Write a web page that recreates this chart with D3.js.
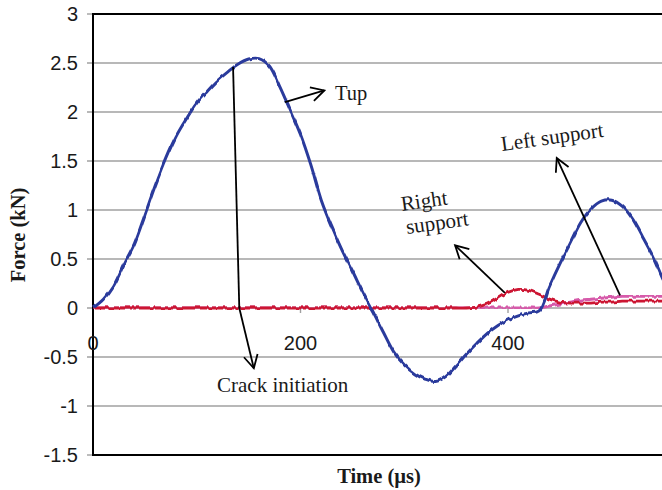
<!DOCTYPE html>
<html>
<head>
<meta charset="utf-8">
<script src="https://cdn.jsdelivr.net/npm/d3@7/dist/d3.min.js"></script>
<style>
  html, body { margin: 0; padding: 0; background: #fff; }
  svg { display: block; }
</style>
</head>
<body>
<svg id="chart" width="662" height="490"></svg>
<script>
// Time samples (µs)
const timeUs = [0,10,20,30,40,50,60,70,80,90,100,110,120,130,140,150,160,170,180,190,
  200,210,220,230,240,250,260,270,280,290,300,310,320,330,340,350,360,370,380,390,
  400,410,420,430,440,450,460,470,480,490,500,510,520,530,540,550,560];

// Force on the striker (kN)
const tupForce = [0.00,0.09,0.23,0.45,0.66,0.95,1.25,1.52,1.75,1.93,
  2.09,2.21,2.32,2.41,2.49,2.54,2.545,2.47,2.26,2.02,
  1.77,1.46,1.10,0.83,0.59,0.38,0.16,-0.04,-0.25,-0.45,
  -0.58,-0.67,-0.725,-0.75,-0.70,-0.59,-0.47,-0.36,-0.26,-0.18,
  -0.12,-0.08,-0.05,-0.03,0.22,0.45,0.66,0.87,1.01,1.09,
  1.10,1.04,0.91,0.72,0.52,0.28,0.08];

// Force on the right support (kN)
const rightSupportForce = [0,0,0,0,0,0,0,0,0,0,
  0,0,0,0,0,0,0,0,0,0,
  0,0,0,0,0,0,0,0,0,0,
  0,0,0,0,0,0,0,0.01,0.04,0.10,
  0.16,0.19,0.18,0.14,0.09,0.06,0.05,0.05,0.05,0.06,
  0.06,0.07,0.07,0.07,0.07,0.07,0.07];

// Force on the left support (kN)
const leftSupportForce = [0,0,0,0,0,0,0,0,0,0,
  0,0,0,0,0,0,0,0,0,0,
  0,0,0,0,0,0,0,0,0,0,
  0,0,0,0,0,0,0,0,0,0,
  0,0,0,0.00,0.02,0.04,0.06,0.08,0.09,0.10,
  0.11,0.12,0.12,0.12,0.12,0.12,0.12];

const yTicks = [-1.5,-1,-0.5,0,0.5,1,1.5,2,2.5,3];
const yTickLabels = ["-1.5","-1","-0.5","0","0.5","1","1.5","2","2.5","3"];
const xTicks = [0,200,400];

const svg = d3.select("#chart");
const W = 662, H = 490;
svg.append("rect").attr("width", W).attr("height", H).attr("fill", "#fff");

const x = d3.scaleLinear().domain([0, 600]).range([93, 715.5]);
const y = d3.scaleLinear().domain([-1.5, 3]).range([455, 14]);

const defs = svg.append("defs");

const ripple = defs.append("filter").attr("id", "ripple")
  .attr("x", "-2%").attr("y", "-5%").attr("width", "104%").attr("height", "110%");
ripple.append("feTurbulence")
  .attr("type", "fractalNoise").attr("baseFrequency", "0.3 0.015")
  .attr("numOctaves", 1).attr("seed", 4).attr("result", "noise");
ripple.append("feColorMatrix").attr("in", "noise").attr("type", "matrix")
  .attr("values", "0 0 0 0 0.5  0 1 0 0 0  0 0 0 0 0  0 0 0 0 1").attr("result", "map");
ripple.append("feDisplacementMap")
  .attr("in", "SourceGraphic").attr("in2", "map").attr("scale", 5)
  .attr("xChannelSelector", "R").attr("yChannelSelector", "G");

// Horizontal grid lines (extend slightly left as tick marks)
svg.append("g").selectAll("line").data(yTicks.filter(v => v > -1.5 && v < 3)).join("line")
  .attr("x1", 87).attr("x2", W)
  .attr("y1", d => y(d)).attr("y2", d => y(d))
  .attr("stroke", "#a0a0a0").attr("stroke-width", 1.4);

// Left tick stubs for the border rows
[-1.5, 3].forEach(v => {
  svg.append("line").attr("x1", 87).attr("x2", 93).attr("y1", y(v)).attr("y2", y(v))
    .attr("stroke", "#a0a0a0").attr("stroke-width", 1.4);
});

// Ticks on the zero axis
svg.append("g").selectAll("line").data(xTicks.filter(v => v > 0)).join("line")
  .attr("x1", d => x(d)).attr("x2", d => x(d))
  .attr("y1", y(0)).attr("y2", y(0) + 5)
  .attr("stroke", "#a0a0a0").attr("stroke-width", 1.4);

// Frame: left, top, bottom
svg.append("line").attr("x1", x(0)).attr("x2", x(0)).attr("y1", y(3)).attr("y2", y(-1.5))
  .attr("stroke", "#000").attr("stroke-width", 2);
svg.append("line").attr("x1", x(0) - 1).attr("x2", W).attr("y1", y(3)).attr("y2", y(3))
  .attr("stroke", "#000").attr("stroke-width", 2);
svg.append("line").attr("x1", x(0) - 1).attr("x2", W).attr("y1", y(-1.5)).attr("y2", y(-1.5))
  .attr("stroke", "#000").attr("stroke-width", 2);

// Y tick labels
svg.append("g").selectAll("text").data(yTicks).join("text")
  .attr("x", 78).attr("y", d => y(d))
  .attr("dy", "0.35em")
  .attr("text-anchor", "end")
  .attr("font-family", "Liberation Sans, Arial, sans-serif")
  .attr("font-size", 20)
  .attr("fill", "#1a1a1a")
  .text((d, i) => yTickLabels[i]);

// X tick labels
svg.append("g").selectAll("text").data(xTicks).join("text")
  .attr("x", d => x(d)).attr("y", 343)
  .attr("dy", "0.35em")
  .attr("text-anchor", "middle")
  .attr("font-family", "Liberation Sans, Arial, sans-serif")
  .attr("font-size", 20)
  .attr("fill", "#1a1a1a")
  .text(d => d);

const serif = "Liberation Serif, Times New Roman, serif";

// Axis titles
svg.append("text")
  .attr("transform", `translate(25,235) rotate(-90)`)
  .attr("text-anchor", "middle")
  .attr("font-family", serif)
  .attr("font-weight", "bold")
  .attr("font-size", 20.5)
  .attr("fill", "#1a1a1a")
  .text("Force (kN)");

svg.append("text")
  .attr("x", 379).attr("y", 483)
  .attr("text-anchor", "middle")
  .attr("font-family", serif)
  .attr("font-weight", "bold")
  .attr("font-size", 20.5)
  .attr("fill", "#1a1a1a")
  .text("Time (µs)");

// Series
const plot = svg.append("g");
const series = [
  { name: "Left support", values: leftSupportForce, color: "#d65aaa", width: 3 },
  { name: "Right support", values: rightSupportForce, color: "#cc1230", width: 2.8 },
  { name: "Tup", values: tupForce, color: "#2b3a9c", width: 3 }
];
const line = d3.line()
  .x((d, i) => x(timeUs[i]))
  .y(d => y(d))
  .curve(d3.curveCatmullRom.alpha(0.5));
series.forEach(s => {
  plot.append("path")
    .datum(s.values)
    .attr("d", line)
    .attr("fill", "none")
    .attr("stroke", s.color)
    .attr("stroke-width", s.width)
    .attr("stroke-linejoin", "round")
    .attr("filter", "url(#ripple)");
});

// Arrow marker
defs.append("marker")
  .attr("id", "arrow")
  .attr("markerUnits", "userSpaceOnUse")
  .attr("viewBox", "-14 -8 16 16")
  .attr("markerWidth", 16).attr("markerHeight", 16)
  .attr("refX", 0).attr("refY", 0)
  .attr("orient", "auto")
  .append("path")
  .attr("d", "M-13,-7 L0,0 L-13,7")
  .attr("fill", "none")
  .attr("stroke", "#000")
  .attr("stroke-width", 1.8)
  .attr("stroke-linejoin", "miter");

// Annotations: leader lines in data units
const leaders = [
  { from: [135, 2.46], to: [141, 0], arrow: false },
  { from: [141, 0], to: [155, -0.615], arrow: true },
  { from: [185, 2.10], to: [223, 2.22], arrow: true },
  { from: [397, 0.155], to: [349, 0.64], arrow: true },
  { from: [508, 0.13], to: [447, 1.53], arrow: true }
];
svg.append("g").selectAll("line").data(leaders).join("line")
  .attr("x1", d => x(d.from[0])).attr("y1", d => y(d.from[1]))
  .attr("x2", d => x(d.to[0])).attr("y2", d => y(d.to[1]))
  .attr("stroke", "#000").attr("stroke-width", 1.8)
  .attr("marker-end", d => d.arrow ? "url(#arrow)" : null);

svg.append("text").attr("x", 335).attr("y", 100)
  .attr("font-family", serif).attr("font-size", 20.5).attr("fill", "#1a1a1a").text("Tup");
svg.append("text").attr("x", 217).attr("y", 392)
  .attr("font-family", serif).attr("font-size", 21).attr("fill", "#1a1a1a").text("Crack initiation");
svg.append("text").attr("transform", "translate(402,211) rotate(-8)")
  .attr("font-family", serif).attr("font-size", 21).attr("fill", "#1a1a1a").text("Right");
svg.append("text").attr("transform", "translate(407,234) rotate(-8)")
  .attr("font-family", serif).attr("font-size", 21).attr("fill", "#1a1a1a").text("support");
svg.append("text").attr("transform", "translate(502,151) rotate(-8)")
  .attr("font-family", serif).attr("font-size", 21).attr("fill", "#1a1a1a").text("Left support");
</script>
</body>
</html>
